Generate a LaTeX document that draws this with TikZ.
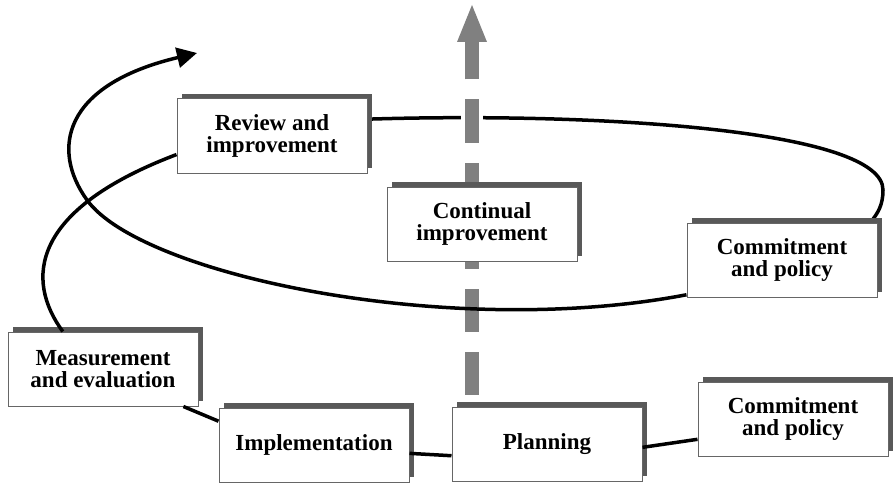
\documentclass[tikz,border=0pt]{standalone}
\usepackage{fontspec}
\setmainfont{Liberation Serif}
\usepackage{tikz}
\usetikzlibrary{calc,shapes,shadows,backgrounds,arrows.meta}
\tikzstyle{stagebox}=[rectangle,draw=black!60,line width=1pt,fill=white,
                      minimum width=190pt,minimum height=74pt,inner sep=2pt,
                      font=\fontsize{23}{22}\selectfont\bfseries,
                      general shadow={fill=black!65,shadow xshift=5pt,shadow yshift=5pt}]
\tikzstyle{loopline}=[line width=3.5pt,black]
\tikzstyle{trendline}=[line width=14pt,black!50,dash pattern=on 43pt off 20pt,dash phase=51pt]
\tikzstyle{trendhead}=[fill=black!50]
\newcommand\stagelabel[2]{\parbox{180pt}{\centering #1 \\ #2}}

\begin{document}
\begin{tikzpicture}[x=1pt,y=-1pt]
    \useasboundingbox (0,0) rectangle (893,484);
    % stages
    \node [stagebox] (Review) at (272,136) {\stagelabel{Review and}{improvement}};
    \node [stagebox] (Continual) at (482,224) {\stagelabel{Continual}{improvement}};
    \node [stagebox] (CommitTop) at (782,260) {\stagelabel{Commitment}{and policy}};
    \node [stagebox] (Measure) at (103,369) {\stagelabel{Measurement}{and evaluation}};
    \node [stagebox] (Implement) at (314,445) {Implementation};
    \node [stagebox] (Planning) at (547,444) {Planning};
    \node [stagebox] (CommitBottom) at (793,419) {\stagelabel{Commitment}{and policy}};
    \coordinate (trendtop) at (472,5);
    % back half of the loop and the upward trend
    \begin{pgfonlayer}{background}
        \draw [loopline] (Review.10) .. controls (600,112) and (883,130) .. (883,190)
              .. controls (883,205) and (878,213) .. (CommitTop.23);
        \draw [trendline,preaction={draw=white,line width=22pt}]
              (Planning.north -| trendtop) -- ($(trendtop)+(0,37)$);
        \fill [trendhead] (trendtop) -- ++(-15,37) -- ++(30,0) -- cycle;
    \end{pgfonlayer}
    % front half of the loop
    \draw [loopline,-{Triangle[length=20pt,width=20pt]}] (CommitTop.200)
          .. controls (450,340) and (141,275) .. (87,200)
          .. controls (51,150) and (62,85) .. (197,53);
    \draw [loopline] (Measure.137) .. controls (25,280) and (30,210) .. (Review.191);
    \draw [loopline] (Measure.335) -- (Implement.166);
    \draw [loopline] (Implement.-5) -- (Planning.187);
    \draw [loopline] (Planning.-2) -- (CommitBottom.192);
\end{tikzpicture}
\end{document}
